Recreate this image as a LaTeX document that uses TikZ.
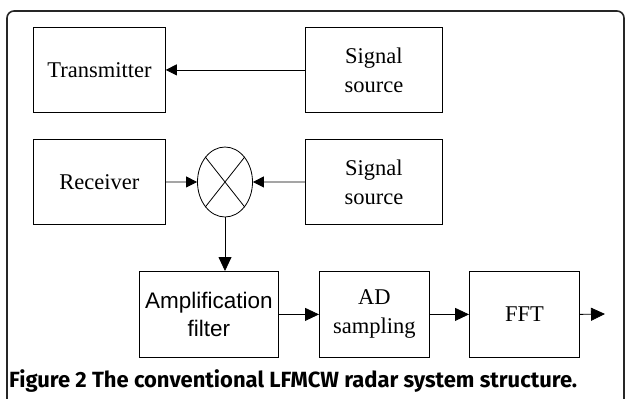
\documentclass[tikz,border=0pt]{standalone}
\usepackage{fontspec}
\setmainfont{Liberation Serif}
\newfontfamily\arialfont{Liberation Sans}
\newfontfamily\capfont{Fira Sans}
\usetikzlibrary{arrows.meta,shapes.geometric}
\begin{document}
\begin{tikzpicture}[x=1pt,y=-1pt,
  blk/.style={draw,line width=0.8pt,inner sep=0pt,anchor=north west,
    font=\fontsize{22.5}{29}\selectfont,align=center},
  arr/.style={line width=0.8pt,-{Triangle[length=11pt,width=11pt]}},
  arrb/.style={line width=0.8pt,-{Triangle[length=14pt,width=13pt]}}]
\useasboundingbox (0,0) rectangle (625,399);
\clip (0,0) rectangle (625,399);
\draw[line width=1.6pt,rounded corners=7pt,black!85] (7,410) |- (624,11) -- (624,410);
\node[blk,minimum width=132pt,minimum height=85pt] (tx) at (33,27) {Transmitter};
\node[blk,minimum width=137pt,minimum height=85pt] (ss1) at (305,27) {Signal\\source};
\node[blk,minimum width=132pt,minimum height=85pt] (rx) at (33,139) {Receiver};
\node[blk,minimum width=137pt,minimum height=85pt] (ss2) at (305,139) {Signal\\source};
\node[draw,line width=0.8pt,ellipse,minimum width=55pt,minimum height=70pt,inner sep=0pt] (mix) at (225,182) {};
\draw[line width=0.8pt] (mix.north west) -- (mix.south east) (mix.north east) -- (mix.south west);
\node[blk,minimum width=139pt,minimum height=86pt,font=\arialfont\fontsize{22.5}{28}\selectfont] (amp) at (139,271) {Amplification\\filter};
\node[blk,minimum width=110pt,minimum height=86pt] (ad) at (319,271) {AD\\sampling};
\node[blk,minimum width=110pt,minimum height=86pt] (fft) at (469,271) {FFT};
\coordinate (out) at (605,314);
\draw[arr] (ss1.west) -- (tx.east);
\draw[arr] (rx.east) -- (mix.west);
\draw[arr] (ss2.west) -- (mix.east);
\draw[arrb] (mix.south) -- (mix.south |- amp.north);
\draw[arrb] (amp.east) -- (ad.west);
\draw[arrb] (ad.east) -- (fft.west);
\draw[arrb] (fft.east) -- (out);
\node[anchor=base west,inner sep=0pt,font=\capfont\bfseries\fontsize{22}{26}\selectfont] (cap) at (9,387) {Figure 2 The conventional LFMCW radar system structure.};
\end{tikzpicture}
\end{document}
